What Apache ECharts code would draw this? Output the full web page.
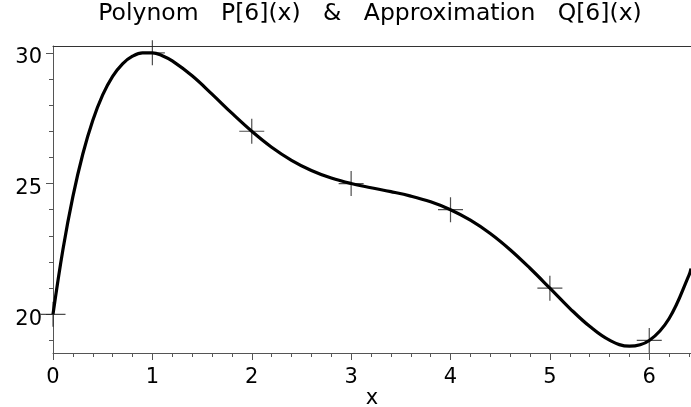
<!DOCTYPE html>
<html>
<head>
<meta charset="utf-8">
<script src="https://cdn.jsdelivr.net/npm/echarts@6/dist/echarts.min.js"></script>
<style>html,body{margin:0;padding:0;background:#fff;}#c{width:691px;height:407px;}</style>
</head>
<body>
<div id="c"></div>
<script>
// ---- data ----
const titleText = 'Polynom   P[6](x)   &   Approximation   Q[6](x)';
const xName = 'x';
// curve P[6](x) sampled
const curveX = [0, 0.1, 0.2, 0.3, 0.4, 0.5, 0.6, 0.7, 0.8, 0.9, 1.0, 1.1, 1.2, 1.4, 1.6, 1.8, 2.0, 2.2, 2.4, 2.6, 2.8, 3.0, 3.2, 3.4, 3.6, 3.8, 4.0, 4.2, 4.4, 4.6, 4.8, 5.0, 5.2, 5.4, 5.6, 5.8, 6.0, 6.2, 6.4, 6.42];
const curveY = [20, 22.48, 24.50, 26.13, 27.41, 28.39, 29.10, 29.58, 29.87, 30.00, 30.00, 29.89, 29.69, 29.12, 28.42, 27.69, 27.00, 26.39, 25.89, 25.50, 25.21, 25.00, 24.84, 24.69, 24.52, 24.30, 24.00, 23.60, 23.09, 22.47, 21.76, 21.00, 20.23, 19.54, 19.01, 18.78, 19.00, 19.84, 21.50, 21.75];
// data points (crosses)
const pointX = [0, 1, 2, 3, 4, 5, 6];
const pointY = [20, 30, 27, 25, 24, 21, 19];
// ticks
const xMajorTicks = [0, 1, 2, 3, 4, 5, 6];
const xMinorTicks = [0.2, 0.4, 0.6, 0.8, 1.2, 1.4, 1.6, 1.8, 2.2, 2.4, 2.6, 2.8, 3.2, 3.4, 3.6, 3.8, 4.2, 4.4, 4.6, 4.8, 5.2, 5.4, 5.6, 5.8, 6.2, 6.4];
const yMajorTicks = [20, 25, 30];
const yMinorTicks = [19, 21, 22, 23, 24, 26, 27, 28, 29];
const xRange = [0, 6.42];
const yRange = [18.52, 30.26];

// ---- chart ----
const FONT = '"DejaVu Sans", sans-serif';
const axisColor = '#555';
const chart = echarts.init(document.getElementById('c'), null, {renderer: 'canvas'});

function xAx(extra) {
  return Object.assign({
    type: 'value', gridIndex: 0, min: xRange[0], max: xRange[1],
    splitLine: {show: false},
    axisLine: {show: false},
    axisTick: {show: false},
    axisLabel: {show: false}
  }, extra);
}
function yAx(extra) {
  return Object.assign({
    type: 'value', gridIndex: 0, min: yRange[0], max: yRange[1],
    splitLine: {show: false},
    axisLine: {show: false},
    axisTick: {show: false},
    axisLabel: {show: false}
  }, extra);
}

const option = {
  animation: false,
  backgroundColor: '#fff',
  grid: {left: 53, right: 0, top: 46, bottom: 54, containLabel: false, outerBoundsMode: 'none'},
  graphic: [{
    type: 'text', x: 370, y: 2,
    style: {text: titleText, font: '23.5px ' + FONT, fill: '#000', align: 'center', verticalAlign: 'top'}
  }],
  xAxis: [
    xAx({
      position: 'bottom',
      axisLine: {show: true, onZero: false, lineStyle: {color: axisColor, width: 1}},
      axisTick: {show: true, customValues: xMajorTicks, length: 7, lineStyle: {color: axisColor, width: 1}},
      axisLabel: {show: true, customValues: xMajorTicks, margin: 14, color: '#000', fontSize: 21, fontFamily: FONT,
        formatter: v => String(v)},
      name: xName, nameLocation: 'middle', nameGap: 35, nameMoveOverlap: false,
      nameTextStyle: {color: '#000', fontSize: 21, fontFamily: FONT}
    }),
    xAx({
      position: 'bottom',
      axisTick: {show: true, customValues: xMinorTicks, length: 4, lineStyle: {color: axisColor, width: 1}}
    }),
    xAx({
      position: 'top',
      axisLine: {show: true, onZero: false, lineStyle: {color: '#333', width: 1}}
    })
  ],
  yAxis: [
    yAx({
      position: 'left',
      axisLine: {show: true, onZero: false, lineStyle: {color: axisColor, width: 1}},
      axisTick: {show: true, customValues: yMajorTicks, length: 7, lineStyle: {color: axisColor, width: 1}},
      axisLabel: {show: true, customValues: yMajorTicks, margin: 11, color: '#000', fontSize: 21, fontFamily: FONT,
        verticalAlign: 'top', lineHeight: 10, formatter: v => String(v)}
    }),
    yAx({
      position: 'left',
      axisTick: {show: true, customValues: yMinorTicks, length: 4, lineStyle: {color: axisColor, width: 1}}
    })
  ],
  series: [
    {
      type: 'line', xAxisIndex: 0, yAxisIndex: 0,
      data: curveX.map((x, i) => [x, curveY[i]]),
      smooth: 0.4, showSymbol: false, symbol: 'none', clip: true,
      lineStyle: {color: '#000', width: 3.2}
    },
    {
      type: 'scatter', xAxisIndex: 0, yAxisIndex: 0,
      data: pointX.map((x, i) => [x, pointY[i]]),
      symbol: 'path://M0,-12L0,12M-12,0L12,0', symbolSize: 25, clip: false,
      itemStyle: {color: 'transparent', borderColor: '#222', borderWidth: 1.2}
    }
  ]
};
chart.setOption(option);
</script>
</body>
</html>
